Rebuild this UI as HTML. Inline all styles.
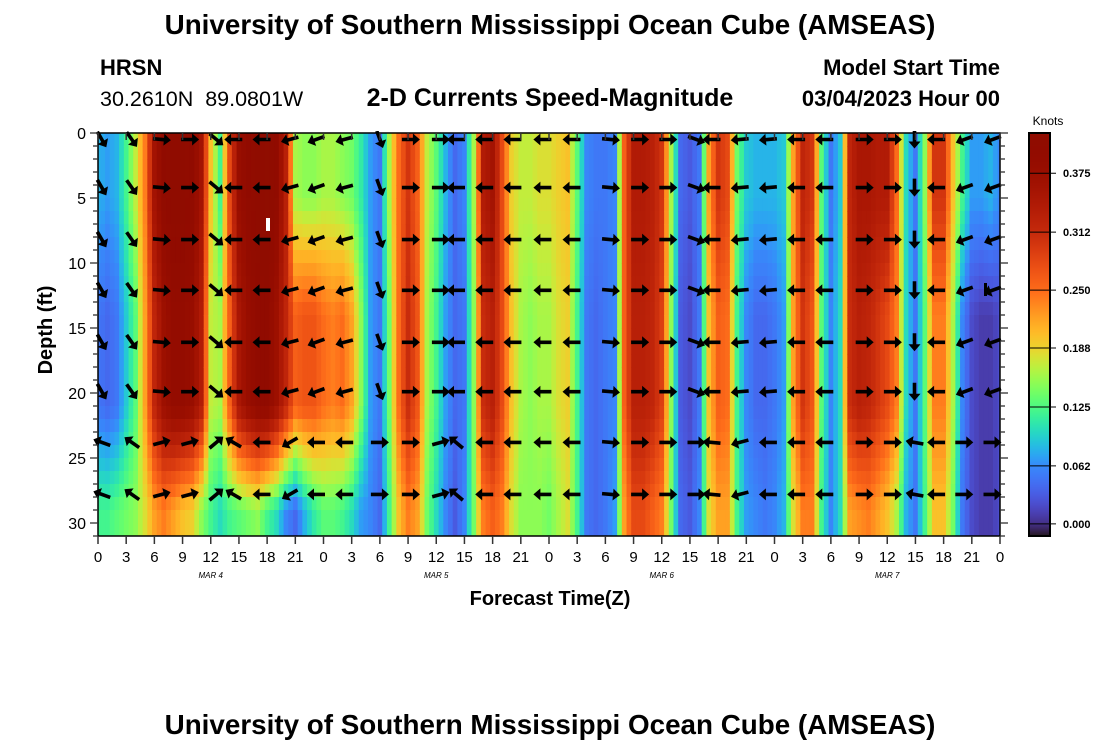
<!DOCTYPE html>
<html><head><meta charset="utf-8">
<style>
body{margin:0;background:#fff;}
svg text{font-family:"Liberation Sans",sans-serif;}
</style></head>
<body>
<svg id="chart" width="1100" height="750" viewBox="0 0 1100 750" xmlns="http://www.w3.org/2000/svg">
<text x="550" y="34" text-anchor="middle" font-size="27.8" font-weight="bold">University of Southern Mississippi Ocean Cube (AMSEAS)</text>
<text x="100" y="75" font-size="22" font-weight="bold">HRSN</text>
<text x="100" y="106" font-size="21.5">30.2610N&#160;&#160;89.0801W</text>
<text x="550" y="106" text-anchor="middle" font-size="25" font-weight="bold">2-D Currents Speed-Magnitude</text>
<text x="1000" y="75" text-anchor="end" font-size="22" font-weight="bold">Model Start Time</text>
<text x="1000" y="106" text-anchor="end" font-size="22" font-weight="bold">03/04/2023 Hour 00</text>
<g id="heat" clip-path="url(#pc)"></g>
<g id="arrows" clip-path="url(#pc2)"></g>
<defs><clipPath id="pc"><rect x="98" y="133" width="902" height="403"/></clipPath>
<clipPath id="pc2"><rect x="90" y="131" width="915" height="410"/></clipPath></defs>
<rect x="266" y="218" width="4" height="13" fill="#fff"/>
<rect x="984" y="283" width="3" height="13" fill="#000"/>
<rect x="98" y="133" width="902" height="403" fill="none" stroke="#000" stroke-width="1.5"/>
<g id="axes"></g>
<text transform="translate(52,330) rotate(-90)" text-anchor="middle" font-size="20" font-weight="bold">Depth (ft)</text>
<text x="550" y="605" text-anchor="middle" font-size="20" font-weight="bold">Forecast Time(Z)</text>
<g id="cbar"></g>
<text x="1048" y="125" text-anchor="middle" font-size="12">Knots</text>
<text x="550" y="734" text-anchor="middle" font-size="27.8" font-weight="bold">University of Southern Mississippi Ocean Cube (AMSEAS)</text>
</svg>
<script>
const speedTop=[0.08,0.07,0.08,0.12,0.17,0.24,0.36,0.40,0.41,0.41,0.40,
0.36,0.20,0.12,0.28,0.38,0.40,0.41,0.42,0.40,0.33,
0.16,0.15,0.15,0.16,0.16,0.15,0.14,0.11,0.07,0.05,
0.16,0.25,0.30,0.26,0.17,0.13,0.08,0.04,0.06,0.16,
0.34,0.36,0.28,0.19,0.17,0.17,0.18,0.18,0.19,0.20,
0.13,0.06,0.05,0.05,0.06,0.26,0.34,0.34,0.33,0.30,
0.16,0.04,0.03,0.05,0.22,0.30,0.28,0.14,0.09,0.08,
0.08,0.08,0.09,0.22,0.32,0.30,0.13,0.05,0.09,0.32,
0.35,0.35,0.34,0.34,0.25,0.10,0.05,0.15,0.30,0.30,
0.20,0.12,0.07,0.07,0.08,0.06];
const speedMid=[0.05,0.04,0.05,0.09,0.13,0.22,0.32,0.37,0.39,0.39,0.38,
0.34,0.17,0.16,0.26,0.35,0.38,0.40,0.40,0.37,0.32,
0.26,0.27,0.27,0.25,0.24,0.25,0.22,0.15,0.07,0.05,
0.14,0.25,0.31,0.27,0.16,0.12,0.07,0.04,0.05,0.15,
0.31,0.33,0.28,0.20,0.16,0.15,0.16,0.16,0.18,0.19,
0.12,0.05,0.04,0.05,0.06,0.26,0.33,0.33,0.32,0.29,
0.15,0.03,0.02,0.05,0.20,0.26,0.25,0.12,0.06,0.04,
0.04,0.05,0.07,0.22,0.30,0.27,0.13,0.06,0.10,0.31,
0.33,0.32,0.30,0.28,0.24,0.10,0.05,0.13,0.24,0.24,
0.16,0.06,0.02,0.01,0.01,0.02];
const speedBottom=[0.12,0.12,0.13,0.14,0.15,0.18,0.22,0.24,0.22,0.20,0.19,
0.15,0.12,0.10,0.12,0.13,0.14,0.15,0.12,0.10,0.06,
0.04,0.08,0.11,0.13,0.13,0.12,0.10,0.07,0.06,0.04,
0.12,0.20,0.24,0.22,0.14,0.10,0.06,0.03,0.06,0.14,
0.24,0.26,0.24,0.18,0.15,0.15,0.15,0.14,0.16,0.18,
0.12,0.05,0.04,0.05,0.07,0.22,0.28,0.28,0.26,0.24,
0.14,0.04,0.03,0.06,0.18,0.22,0.22,0.12,0.07,0.06,
0.05,0.06,0.08,0.18,0.24,0.24,0.12,0.06,0.10,0.22,
0.23,0.24,0.22,0.20,0.16,0.08,0.05,0.12,0.20,0.20,
0.14,0.05,0.02,0.01,0.01,0.02];
const arrowHours=[0.4,3.6,6.8,9.8,12.6,14.4,17.4,20.4,23.2,26.2,30.0,33.3,36.5,38.1,41.1,44.1,47.3,50.4,54.6,57.7,60.7,63.7,65.3,68.3,71.3,74.3,77.3,81.6,84.6,86.9,89.2,92.2,95.2];
const arrowDepths=[0.5,4.2,8.2,12.1,16.1,19.9,23.8,27.8];
const angleUpper=[60,55,5,0,40,180,180,165,160,165,70,0,0,180,180,180,180,180,5,0,0,20,180,175,175,180,180,0,0,90,180,160,160];
const angleLower=[200,215,-15,-15,-40,210,180,150,180,180,0,0,-15,220,180,180,180,180,5,0,0,0,185,165,180,180,180,0,0,190,180,0,0];
const yTicks=[0,5,10,15,20,25,30];
const xTickLabels=["0","3","6","9","12","15","18","21","0","3","6","9","12","15","18","21","0","3","6","9","12","15","18","21","0","3","6","9","12","15","18","21","0"];
const dayLabels=["MAR 4","MAR 5","MAR 6","MAR 7"];
const cbarTicks=[0.000,0.062,0.125,0.188,0.250,0.312,0.375];

const NS="http://www.w3.org/2000/svg";
const X0=98,X1=1000,Y0=133,Y1=536,HMAX=96,DMAX=31;
const xs=h=>X0+(X1-X0)*h/HMAX;
const ys=d=>Y0+(Y1-Y0)*d/DMAX;
const VMIN=-0.013,VMAX=0.418;
function turbo(x){x=Math.max(0,Math.min(1,x));
const r=0.13572138+x*(4.61539260+x*(-42.66032258+x*(132.13108234+x*(-152.94239396+x*59.28637943))));
const g=0.09140261+x*(2.19418839+x*(4.84296658+x*(-14.18503333+x*(4.27729857+x*2.82956604))));
const b=0.10667330+x*(12.64194608+x*(-60.58204836+x*(110.36276771+x*(-89.90310912+x*27.34824973))));
const c=v=>Math.round(255*Math.max(0,Math.min(1,v)));
return `rgb(${c(r)},${c(g)},${c(b)})`;}
const cmV=[-0.013,0.0,0.062,0.125,0.188,0.250,0.312,0.375,0.418];
const cmP=[0.0,0.04,0.17,0.40,0.62,0.78,0.88,0.95,1.0];
function col(v){if(v<=cmV[0])return turbo(0);
for(let i=1;i<cmV.length;i++){if(v<=cmV[i]){const f=(v-cmV[i-1])/(cmV[i]-cmV[i-1]);return turbo(cmP[i-1]+f*(cmP[i]-cmP[i-1]));}}
return turbo(1);}
function mk(tag,attrs,parent){const e=document.createElementNS(NS,tag);for(const k in attrs)e.setAttribute(k,attrs[k]);parent.appendChild(e);return e;}
function colAt(arr,h){const i=Math.floor(h),f=h-i;const a=arr[Math.max(0,Math.min(arr.length-1,i))],b=arr[Math.max(0,Math.min(arr.length-1,i+1))];return a+(b-a)*f;}
function speedAt(h,d){const t=colAt(speedTop,h),m=colAt(speedMid,h),b=colAt(speedBottom,h);
if(d<=5)return t; if(d<14)return t+(m-t)*(d-5)/9; if(d<=21)return m; if(d<29)return m+(b-m)*(d-21)/8; return b;}
const heat=document.getElementById('heat');
const STEP=0.5;
for(let h=0;h<=HMAX;h+=STEP){for(let d=0;d<DMAX;d++){
const r=mk('rect',{x:xs(h-STEP/2).toFixed(2),y:ys(d).toFixed(2),width:(xs(STEP)-X0+0.6).toFixed(2),height:(ys(1)-Y0+0.6).toFixed(2),fill:col(speedAt(h,d+0.5))},heat);

}}
const ag=document.getElementById('arrows');
for(let i=0;i<arrowHours.length;i++){for(let j=0;j<arrowDepths.length;j++){
const ang=j<6?angleUpper[i]:angleLower[i];
const cx=xs(arrowHours[i]),cy=ys(arrowDepths[j]);
const p=mk('path',{d:'M-9,-1.8 L2,-1.8 L2,-6 L9,0 L2,6 L2,1.8 L-9,1.8 Z',fill:'#000',transform:`translate(${cx.toFixed(1)},${cy.toFixed(1)}) rotate(${ang})`},ag);

}}
const ax=document.getElementById('axes');
for(let h=0;h<=HMAX;h+=3){const x=xs(h);
mk('line',{x1:x,y1:Y1,x2:x,y2:Y1+8,stroke:'#333','stroke-width':1.5},ax);
mk('line',{x1:x,y1:Y0,x2:x,y2:Y0+7,stroke:'#333','stroke-width':1.5},ax);
const t=mk('text',{x:x,y:Y1+26,'text-anchor':'middle','font-size':15},ax);t.textContent=xTickLabels[h/3];

}
dayLabels.forEach((s,i)=>{const t=mk('text',{x:xs(12+24*i),y:Y1+42,'text-anchor':'middle','font-size':8,'font-style':'italic','font-family':'Liberation Mono, monospace'},ax);t.textContent=s;

});
for(let d=0;d<=DMAX;d++){const y=ys(d),L=(d%5===0)?8:5;
mk('line',{x1:X0-L,y1:y,x2:X0,y2:y,stroke:'#333','stroke-width':1.3},ax);
mk('line',{x1:X1,y1:y,x2:X1+L,y2:y,stroke:'#333','stroke-width':1.3},ax);}
yTicks.forEach(d=>{const t=mk('text',{x:X0-12,y:ys(d)+6,'text-anchor':'end','font-size':16},ax);t.textContent=String(d);

});
const cb=document.getElementById('cbar');
const CX=1029,CW=21,cy=v=>Y0+(Y1-Y0)*(VMAX-v)/(VMAX-VMIN);
for(let y=Y0;y<Y1;y++){const v=VMAX-(VMAX-VMIN)*(y-Y0+0.5)/(Y1-Y0);
mk('rect',{x:CX,y:y,width:CW,height:1.2,fill:col(v)},cb);}
mk('rect',{x:CX,y:Y0,width:CW,height:Y1-Y0,fill:'none',stroke:'#000','stroke-width':2},cb);
cbarTicks.forEach(v=>{const y=cy(v);
mk('line',{x1:CX,y1:y,x2:CX+CW+6,y2:y,stroke:'#000','stroke-width':1},cb);
const t=mk('text',{x:CX+CW+13,y:y+4,'font-size':11,'font-weight':'bold'},cb);t.textContent=v.toFixed(3);

});
</script>
</body></html>
